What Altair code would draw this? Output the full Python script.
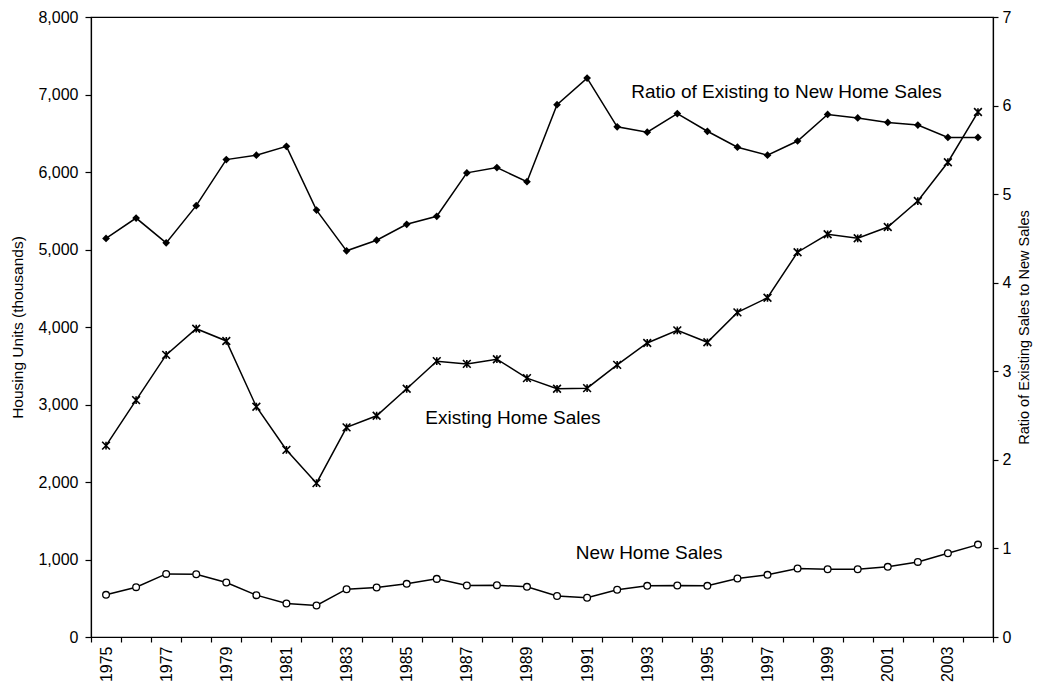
import altair as alt
import pandas as pd

years = list(range(1975, 2005))
existing_sales = [2469, 3057, 3640, 3978, 3820, 2971, 2414, 1985, 2705, 2855,
                  3203, 3559, 3524, 3584, 3340, 3203, 3211, 3511, 3794, 3957,
                  3803, 4189, 4377, 4965, 5196, 5145, 5290, 5625, 6126, 6774]
new_sales = [544, 643, 814, 810, 704, 540, 433, 407, 617, 639,
             686, 750, 665, 669, 647, 529, 506, 609, 660, 665,
             660, 755, 802, 883, 875, 875, 905, 969, 1080, 1192]
ratio = [4.50, 4.73, 4.45, 4.87, 5.39, 5.44, 5.54, 4.82, 4.36, 4.48,
         4.66, 4.75, 5.24, 5.30, 5.14, 6.01, 6.31, 5.76, 5.70, 5.91,
         5.71, 5.53, 5.44, 5.60, 5.90, 5.86, 5.81, 5.78, 5.64, 5.64]

# series annotations: label, anchor year, anchor value (left axis units)
ann_labels = ["Ratio of Existing to New Home Sales", "Existing Home Sales", "New Home Sales"]
ann_years = [1997, 1988, 1993]
ann_values = [7035, 2830, 1080]
ann_dx = [19, 16, 2]

df = pd.DataFrame({"year": years, "existing": existing_sales, "new": new_sales, "ratio": ratio})

FONT = "Liberation Sans"
asterisk = "M-1,-1L1,1M-1,1L1,-1M0,-1L0,1"

x_enc = alt.X(
    "year:O",
    scale=alt.Scale(type="band", paddingInner=0, paddingOuter=0),
    axis=alt.Axis(
        title=None,
        labelAngle=270,
        labelFontSize=16,
        labelColor="black",
        labelPadding=4,
        tickSize=5,
        tickColor="black",
        domainColor="black",
        tickBand="extent",
        labelExpr="datum.value % 2 == 1 ? datum.label : ''",
    ),
)

y_left = alt.Y(
    "v:Q",
    scale=alt.Scale(domain=[0, 8000]),
    axis=alt.Axis(
        title="Housing Units (thousands)",
        values=list(range(0, 8001, 1000)),
        format=",.0f",
        labelFontSize=16,
        labelColor="black",
        labelPadding=7,
        tickSize=6,
        tickColor="black",
        domainColor="black",
        grid=False,
        titleFontSize=15.5,
        titleFontWeight="normal",
        titleColor="black",
        titleAngle=270,
        titleX=-74,
        titleY=310,
        titleAlign="center",
        titleBaseline="middle",
    ),
)

base = alt.Chart(df)

existing_line = base.transform_calculate(v="datum.existing").mark_line(
    color="black", strokeWidth=1.5
).encode(x=x_enc, y=y_left)
existing_pts = base.transform_calculate(v="datum.existing").mark_point(
    shape=asterisk, size=60, color="black", strokeWidth=1.6, filled=False, opacity=1
).encode(x=x_enc, y=y_left)
new_line = base.transform_calculate(v="datum.new").mark_line(
    color="black", strokeWidth=1.5
).encode(x=x_enc, y=y_left)
new_pts = base.transform_calculate(v="datum.new").mark_point(
    shape="circle", size=45, color="black", fill="white", strokeWidth=1.3, filled=False, opacity=1
).encode(x=x_enc, y=y_left)

ann_layers = []
for lab, yr, val, dx in zip(ann_labels, ann_years, ann_values, ann_dx):
    d = pd.DataFrame({"label": [lab], "year": [yr], "v": [val]})
    ann_layers.append(
        alt.Chart(d).mark_text(
            font=FONT, fontSize=19, color="black", align="center", baseline="middle", dx=dx
        ).encode(x=x_enc, y=y_left, text="label:N")
    )

left = alt.layer(existing_line, existing_pts, new_line, new_pts, *ann_layers)

y_right = alt.Y(
    "ratio:Q",
    scale=alt.Scale(domain=[0, 7]),
    axis=alt.Axis(
        orient="right",
        title="Ratio of Existing Sales to New Sales",
        values=list(range(0, 8)),
        labelFontSize=16,
        labelColor="black",
        labelPadding=4,
        tickSize=5,
        tickColor="black",
        domainColor="black",
        grid=False,
        titleFontSize=14.5,
        titleFontWeight="normal",
        titleColor="black",
        titleAngle=270,
        titleX=31,
        titleY=310,
        titleAlign="center",
        titleBaseline="middle",
    ),
)

ratio_line = base.mark_line(color="black", strokeWidth=1.5).encode(x=x_enc, y=y_right)
ratio_pts = base.mark_point(
    shape="diamond", size=60, color="black", filled=True, opacity=1
).encode(x=x_enc, y=y_right)
right = alt.layer(ratio_line, ratio_pts)

chart = (
    alt.layer(left, right)
    .resolve_scale(y="independent")
    .properties(
        width=902,
        height=620,
        autosize=alt.AutoSizeParams(type="none"),
        padding={"left": 83, "top": 9, "right": 40, "bottom": 46},
        background="white",
    )
    .configure(font=FONT)
    .configure_view(stroke="black", strokeWidth=1.2)
    .configure_axis(domainWidth=1.2, tickWidth=1.2)
)

chart.save("out.html", embed_options={"renderer": "svg", "actions": False})
